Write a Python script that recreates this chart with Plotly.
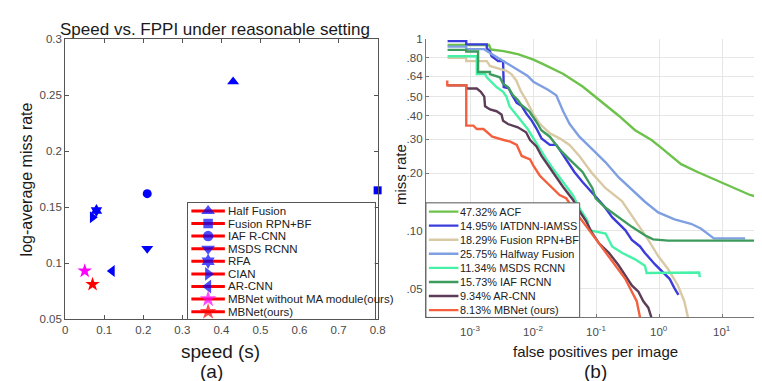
import math
import plotly.graph_objects as go

W, H = 762, 381

# ---------------- (a) speed vs log-average miss rate ----------------
methods_a = ["Half Fusion", "Fusion RPN+BF", "IAF R-CNN", "MSDS RCNN", "RFA", "CIAN",
             "AR-CNN", "MBNet without MA module(ours)", "MBNet(ours)"]
speed_a = [0.43, 0.80, 0.21, 0.21, 0.08, 0.07, 0.12, 0.05, 0.07]
missrate_a = [0.262, 0.165, 0.162, 0.113, 0.147, 0.141, 0.093, 0.093, 0.081]
x_ticks_a = [0, 0.1, 0.2, 0.3, 0.4, 0.5, 0.6, 0.7, 0.8]
y_ticks_a = [0.05, 0.1, 0.15, 0.2, 0.25, 0.3]

# styles for (a)
symbols_a = ["triangle-up", "square", "circle", "triangle-down", "hexagram",
             "triangle-right", "triangle-left", "star", "star"]
colors_a = ["#0000ff"] * 7 + ["#ff00ff", "#ff0000"]
sizes_a = [10.5, 8, 9, 10.5, 10, 10.5, 10.5, 11, 11]

# ---------------- (b) miss rate vs FPPI curves ----------------
labels_b = ["47.32% ACF", "14.95% IATDNN-IAMSS", "18.29% Fusion RPN+BF", "25.75% Halfway Fusion",
            "11.34% MSDS RCNN", "15.73% IAF RCNN", "9.34% AR-CNN", "8.13% MBNet (ours)"]

acf_fppi = [4.4e-4, 2.0e-3, 2.14e-3, 3.4e-3, 5.9e-3, 0.0101, 0.0144, 0.0297, 0.061, 0.111, 0.228,
            0.414, 0.755, 1.08, 2.22, 4.05, 9.4, 27.6, 42.4]
acf_mr = [0.933, 0.933, 0.883, 0.867, 0.833, 0.783, 0.741, 0.66, 0.566, 0.485, 0.399,
          0.335, 0.298, 0.271, 0.223, 0.203, 0.18, 0.154, 0.148]

iatdnn_fppi = [4.4e-4, 8.7e-4, 8.7e-4, 1.84e-3, 1.84e-3, 2.07e-3, 2.2e-3, 2.79e-3, 3.34e-3, 3.42e-3,
               4.1e-3, 4.6e-3, 5.5e-3, 6.6e-3, 7.9e-3, 9.5e-3, 0.0113, 0.0136, 0.0184, 0.0233,
               0.0263, 0.0334, 0.0451, 0.0608, 0.0872, 0.133, 0.179, 0.289, 0.368, 0.496,
               0.593, 0.851, 1.15, 1.46, 1.75, 2.02]
iatdnn_mr = [0.977, 0.977, 0.94, 0.94, 0.897, 0.863, 0.814, 0.768, 0.768, 0.563,
             0.555, 0.513, 0.466, 0.448, 0.407, 0.376, 0.342, 0.304, 0.281, 0.281,
             0.266, 0.236, 0.203, 0.180, 0.157, 0.135, 0.118, 0.101, 0.0898, 0.083,
             0.0768, 0.0671, 0.0608, 0.0563, 0.0502, 0.0464]

fusion_fppi = [4.4e-4, 8.7e-4, 8.7e-4, 1.84e-3, 2.07e-3, 3.77e-3, 4.52e-3, 5.4e-3, 6.45e-3, 7.73e-3,
               0.0101, 0.0128, 0.0184, 0.0263, 0.0378, 0.0541, 0.0872, 0.141, 0.256, 0.414,
               0.671, 0.962, 1.38, 1.97, 2.50, 2.9]
fusion_mr = [0.80, 0.80, 0.768, 0.768, 0.725, 0.684, 0.658, 0.609, 0.532, 0.482,
             0.407, 0.362, 0.323, 0.304, 0.281, 0.246, 0.199, 0.167, 0.143, 0.113,
             0.0898, 0.074, 0.0633, 0.0521, 0.043, 0.0346]

halfway_fppi = [4.4e-4, 8.7e-4, 8.7e-4, 1.67e-3, 2.07e-3, 2.79e-3, 3.77e-3, 6.1e-3, 8.1e-3, 0.0101,
                0.0172, 0.0233, 0.0297, 0.0378, 0.0541, 0.0872, 0.141, 0.228, 0.368, 0.593,
                0.962, 1.75, 3.19, 4.56, 7.36, 23.0]
halfway_mr = [0.914, 0.914, 0.887, 0.887, 0.847, 0.799, 0.754, 0.684, 0.645, 0.60,
              0.545, 0.51, 0.423, 0.362, 0.31, 0.266, 0.228, 0.19, 0.164, 0.142,
              0.125, 0.115, 0.109, 0.103, 0.0915, 0.0915]

msds_fppi = [4.4e-4, 1.28e-3, 1.28e-3, 1.73e-3, 1.84e-3, 2.63e-3, 3.34e-3, 3.77e-3, 4.24e-3, 5.4e-3,
             6.85e-3, 8.2e-3, 0.0101, 0.0128, 0.0163, 0.0207, 0.0297, 0.0425, 0.0541, 0.0728,
             0.0774, 0.141, 0.179, 0.256, 0.414, 0.593, 0.631, 1.75, 4.3, 4.4]
msds_mr = [0.814, 0.814, 0.658, 0.658, 0.633, 0.563, 0.532, 0.502, 0.446, 0.405,
           0.368, 0.34, 0.304, 0.266, 0.236, 0.211, 0.18, 0.154, 0.132, 0.113,
           0.101, 0.097, 0.083, 0.077, 0.0711, 0.0658, 0.0604, 0.0604, 0.0607, 0.0574]

iaf_fppi = [4.4e-4, 8.7e-4, 8.7e-4, 1.34e-3, 1.34e-3, 2.07e-3, 2.07e-3, 2.96e-3, 3.34e-3, 3.99e-3,
            4.78e-3, 5.72e-3, 6.45e-3, 8.7e-3, 0.0113, 0.0135, 0.0184, 0.0263, 0.0378, 0.0608,
            0.0872, 0.098, 0.141, 0.228, 0.368, 0.593, 0.80, 1.38, 42.4]
iaf_mr = [0.88, 0.88, 0.863, 0.863, 0.674, 0.674, 0.658, 0.633, 0.586, 0.563,
          0.511, 0.482, 0.455, 0.42, 0.37, 0.335, 0.31, 0.266, 0.236, 0.203,
          0.167, 0.148, 0.132, 0.118, 0.105, 0.095, 0.0904, 0.089, 0.089]

arcnn_fppi = [4.4e-4, 8.7e-4, 8.7e-4, 1.28e-3, 1.48e-3, 1.68e-3, 1.73e-3, 2.07e-3, 2.63e-3, 3.15e-3,
              3.34e-3, 3.99e-3, 5.72e-3, 7.73e-3, 8.95e-3, 0.0113, 0.0136, 0.0173, 0.022, 0.0297,
              0.0425, 0.0541, 0.0686, 0.0872, 0.111, 0.159, 0.228, 0.289, 0.368, 0.468,
              0.56, 0.671, 0.755, 0.78]
arcnn_mr = [0.574, 0.574, 0.553, 0.553, 0.532, 0.502, 0.447, 0.43, 0.421, 0.405,
            0.375, 0.361, 0.347, 0.327, 0.298, 0.276, 0.246, 0.219, 0.194, 0.17,
            0.146, 0.127, 0.113, 0.097, 0.0862, 0.077, 0.066, 0.0586, 0.052, 0.0482,
            0.043, 0.0398, 0.0354, 0.034]

mbnet_fppi = [4.35e-4, 4.35e-4, 8.7e-4, 8.7e-4, 1.13e-3, 1.28e-3, 1.63e-3, 1.84e-3, 2.25e-3, 3.42e-3,
              4.35e-3, 5.5e-3, 6.6e-3, 8.95e-3, 0.0101, 0.0128, 0.0184, 0.0263, 0.0334, 0.0425,
              0.0541, 0.0774, 0.111, 0.159, 0.228, 0.289, 0.368, 0.44, 0.496, 0.51]
mbnet_mr = [0.609, 0.574, 0.574, 0.354, 0.354, 0.340, 0.340, 0.327, 0.31, 0.298,
            0.292, 0.281, 0.246, 0.236, 0.219, 0.194, 0.173, 0.154, 0.148, 0.132,
            0.118, 0.101, 0.0862, 0.074, 0.0633, 0.0563, 0.0482, 0.043, 0.0354, 0.034]

fppi_b = [acf_fppi, iatdnn_fppi, fusion_fppi, halfway_fppi, msds_fppi, iaf_fppi, arcnn_fppi, mbnet_fppi]
mr_b = [acf_mr, iatdnn_mr, fusion_mr, halfway_mr, msds_mr, iaf_mr, arcnn_mr, mbnet_mr]
colors_b = ["#6cc24a", "#3c3cdc", "#d9caa5", "#7f9fe3", "#46f2a8", "#3d9b5e", "#5d3c58", "#f4603e"]

y_tickvals_b = [1, 0.8, 0.64, 0.5, 0.4, 0.3, 0.2, 0.1, 0.05]
y_ticktext_b = ["1", ".80", ".64", ".50", ".40", ".30", ".20", ".10", ".05"]
x_tickvals_b = [1e-3, 1e-2, 1e-1, 1, 10]
x_ticktext_b = ["10<sup>-3</sup>", "10<sup>-2</sup>", "10<sup>-1</sup>", "10<sup>0</sup>", "10<sup>1</sup>"]

FONT = "Liberation Sans, Arial, sans-serif"


def px(x):
    return x / W


def py(y):
    return 1 - y / H


# legend frames, in pixels of the page (left, right, top, bottom)
LEG_A = (180, 369, 195, 315)
LEG_B = (421, 577, 195, 313.3)

fig = go.Figure()

# (a) markers
for i, name in enumerate(methods_a):
    fig.add_trace(go.Scatter(
        x=[speed_a[i]], y=[missrate_a[i]], mode="markers", name=name,
        marker=dict(symbol=symbols_a[i], size=sizes_a[i], color=colors_a[i], line=dict(width=0)),
        xaxis="x", yaxis="y", cliponaxis=False, showlegend=False))

# (b) curves
for i, lab in enumerate(labels_b):
    fig.add_trace(go.Scatter(
        x=fppi_b[i], y=mr_b[i], mode="lines", name=lab,
        line=dict(color=colors_b[i], width=2.4),
        xaxis="x2", yaxis="y2", showlegend=False))

# legend (a): drawn in its own small axes box
n_a = len(methods_a)
leg_a_x = []
leg_a_y = []
for i in range(n_a):
    leg_a_x += [3, 37, None]
    leg_a_y += [i, i, None]
fig.add_trace(go.Scatter(x=leg_a_x, y=leg_a_y, mode="lines", line=dict(color="#ff0000", width=3),
                         xaxis="x3", yaxis="y3", showlegend=False, hoverinfo="skip"))
fig.add_trace(go.Scatter(x=[20] * n_a, y=list(range(n_a)), mode="markers",
                         marker=dict(symbol=symbols_a, color=colors_a,
                                     size=[s + 1.5 for s in sizes_a], line=dict(width=0)),
                         xaxis="x3", yaxis="y3", showlegend=False, hoverinfo="skip", cliponaxis=False))

n_b = len(labels_b)
# invisible anchor trace so the legend (b) axes exist
fig.add_trace(go.Scatter(x=[0], y=[0], mode="markers", marker=dict(opacity=0),
                         xaxis="x4", yaxis="y4", showlegend=False, hoverinfo="skip"))

annotations = []
for i, name in enumerate(methods_a):
    annotations.append(dict(x=38, y=i, xref="x3", yref="y3", text=name, showarrow=False,
                            xanchor="left", yanchor="middle", font=dict(size=11.5, color="#222")))
for i, lab in enumerate(labels_b):
    annotations.append(dict(x=33, y=i, xref="x4", yref="y4", text=lab, showarrow=False,
                            xanchor="left", yanchor="middle", font=dict(size=10.9, color="#222")))
# x tick labels of (b), placed at the tick values
for v, t in zip(x_tickvals_b, x_ticktext_b):
    annotations.append(dict(x=math.log10(v), y=py(318), xref="x2", yref="paper", text=t,
                            showarrow=False, xanchor="center", yanchor="top",
                            font=dict(size=11.5, color="#4a4a4a")))

texts = [
    ("Speed vs. FPPI under reasonable setting", 207, 16, 17, 0),
    ("log-average miss rate", 16, 171, 16, -90),
    ("speed (s)", 213, 348, 19, 0),
    ("(a)", 203, 369, 19, 0),
    ("miss rate", 395, 166, 15, -90),
    ("false positives per image", 593, 348, 15, 0),
    ("(b)", 593, 369, 19, 0),
]
for t, x, y, s, ang in texts:
    annotations.append(dict(x=px(x), y=py(y), xref="paper", yref="paper", text=t, showarrow=False,
                            xanchor="center", yanchor="middle", textangle=ang,
                            font=dict(size=s, color="#1a1a1a")))

# legend (b) box and line samples, drawn over the curves
shapes = [dict(type="rect", xref="paper", yref="paper",
               x0=px(LEG_B[0]), x1=px(LEG_B[1]), y0=py(LEG_B[3]), y1=py(LEG_B[2]),
               fillcolor="white", line=dict(width=1, color="#555"), layer="above")]
for i in range(n_b):
    shapes.append(dict(type="line", xref="x4", yref="y4", x0=3, x1=33, y0=i, y1=i,
                       line=dict(color=colors_b[i], width=2.4), layer="above"))

tickfont = dict(size=11.5, color="#4a4a4a", family=FONT)

fig.update_layout(
    width=W, height=H, margin=dict(l=0, r=0, t=0, b=0),
    paper_bgcolor="white", plot_bgcolor="white", showlegend=False,
    font=dict(family=FONT, color="#222"),
    xaxis=dict(domain=[px(55), px(372)], range=[0, 0.8], tickvals=x_ticks_a,
               ticks="inside", ticklen=4, tickcolor="#555", showline=True, linecolor="#555",
               mirror="ticks", showgrid=False, zeroline=False, tickfont=tickfont, anchor="y"),
    yaxis=dict(domain=[py(315), py(26)], range=[0.05, 0.3], tickvals=y_ticks_a,
               ticks="inside", ticklen=4, tickcolor="#555", showline=True, linecolor="#555",
               mirror="ticks", showgrid=False, zeroline=False, tickfont=tickfont, anchor="x"),
    xaxis2=dict(domain=[px(421), 1.0], type="log", range=[-3.70, 1.63],
                tickvals=x_tickvals_b, showticklabels=False,
                ticks="inside", ticklen=3, tickcolor="#777", showline=True, linecolor="#777",
                showgrid=True, gridcolor="#e6e6e6", gridwidth=1, zeroline=False,
                anchor="y2"),
    yaxis2=dict(domain=[py(313.3), py(26)], type="log", range=[math.log10(0.0354), 0],
                tickvals=y_tickvals_b, ticktext=y_ticktext_b,
                ticks="inside", ticklen=3, tickcolor="#777", showline=True, linecolor="#777",
                showgrid=True, gridcolor="#e6e6e6", gridwidth=1, zeroline=False,
                tickfont=tickfont, anchor="x2"),
    xaxis3=dict(domain=[px(LEG_A[0]), px(LEG_A[1])], range=[0, LEG_A[1] - LEG_A[0]],
                showline=True, mirror=True,
                linecolor="#555", showticklabels=False, ticks="", showgrid=False,
                zeroline=False, anchor="y3", fixedrange=True),
    yaxis3=dict(domain=[py(LEG_A[3]), py(LEG_A[2])], range=[n_a - 1 + 0.59, -0.64], showline=True,
                mirror=True, linecolor="#555", showticklabels=False, ticks="", showgrid=False,
                zeroline=False, anchor="x3", fixedrange=True),
    xaxis4=dict(domain=[px(LEG_B[0]), px(LEG_B[1])], range=[0, LEG_B[1] - LEG_B[0]], showline=False,
                showticklabels=False, ticks="", showgrid=False,
                zeroline=False, anchor="y4", fixedrange=True),
    yaxis4=dict(domain=[py(LEG_B[3]), py(LEG_B[2])], range=[n_b - 1 + 0.52, -0.62], showline=False,
                showticklabels=False, ticks="", showgrid=False,
                zeroline=False, anchor="x4", fixedrange=True),
    shapes=shapes,
    annotations=annotations,
)

fig.write_html("out.html")
